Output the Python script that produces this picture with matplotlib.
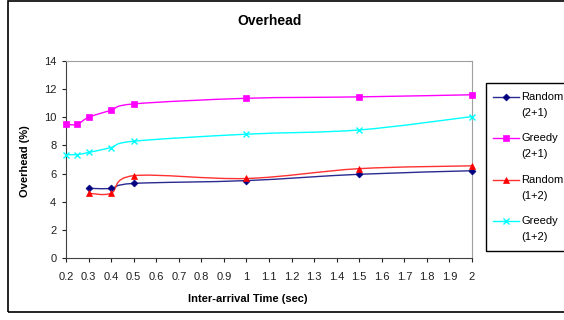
import matplotlib
matplotlib.use("Agg")
import numpy as np
from matplotlib import pyplot as plt
from matplotlib.path import Path
from matplotlib.patches import PathPatch, Rectangle
from matplotlib.lines import Line2D

plt.rcParams['font.family'] = ['Liberation Sans', 'DejaVu Sans']

# data
x_full = [0.2, 0.25, 0.3, 0.4, 0.5, 1.0, 1.5, 2.0]
x_part = [0.3, 0.4, 0.5, 1.0, 1.5, 2.0]
random_21 = [4.95, 4.95, 5.3, 5.5, 5.95, 6.2]
greedy_21 = [9.5, 9.5, 10.0, 10.5, 10.95, 11.35, 11.45, 11.6]
random_12 = [4.6, 4.6, 5.85, 5.65, 6.35, 6.55]
greedy_12 = [7.35, 7.35, 7.5, 7.85, 8.3, 8.8, 9.1, 10.05]
x_ticks = [round(0.2 + 0.1 * i, 1) for i in range(19)]
tick_labels = [('%g' % t) for t in x_ticks]

series = [
    ("Random", "(2+1)", x_part, random_21, '#000080', 'D', 3.5, '#2a2a90'),
    ("Greedy", "(2+1)", x_full, greedy_21, '#ff00ff', 's', 4.5, '#ff00ff'),
    ("Random", "(1+2)", x_part, random_12, '#ff0000', '^', 5, '#ff3030'),
    ("Greedy", "(1+2)", x_full, greedy_12, '#00ffff', 'x', 4, '#00ffff'),
]


def smooth_path(xs, ys):
    # Excel-style smoothed line drawn as cubic bezier segments
    xs = np.asarray(xs, float)
    ys = np.asarray(ys, float)
    n = len(xs)
    verts = [(xs[0], ys[0])]
    codes = [Path.MOVETO]
    for i in range(n - 1):
        p0 = np.array([xs[max(i - 1, 0)], ys[max(i - 1, 0)]])
        p1 = np.array([xs[i], ys[i]])
        p2 = np.array([xs[i + 1], ys[i + 1]])
        p3 = np.array([xs[min(i + 2, n - 1)], ys[min(i + 2, n - 1)]])
        c1 = p1 + (p2 - p0) / 6.0
        c2 = p2 - (p3 - p1) / 6.0
        verts += [tuple(c1), tuple(c2), tuple(p2)]
        codes += [Path.CURVE4] * 3
    return Path(verts, codes)


W, H = 564, 320
fig = plt.figure(figsize=(W / 100, H / 100), dpi=100)
fig.patches.append(Rectangle((8 / W, 1 - 312 / H), 1.0, 311 / H,
                             transform=fig.transFigure, fill=False,
                             edgecolor='black', linewidth=1.2))
ax = fig.add_axes([66 / W, 1 - 258 / H, 406 / W, 197 / H])

for name, sub, xs, ys, mcol, marker, ms, lcol in series:
    ax.add_patch(PathPatch(smooth_path(xs, ys), fill=False, edgecolor=lcol,
                           linewidth=1.0, zorder=2))
    ax.plot(xs, ys, linestyle='none', marker=marker, color=mcol,
            markersize=ms, markeredgewidth=1 if marker == 'x' else 0.5,
            zorder=3, clip_on=False)

ax.set_xlim(0.2, 2.0)
ax.set_ylim(0, 14)
ax.set_xticks(x_ticks)
ax.set_xticklabels(tick_labels)
ax.set_yticks(range(0, 15, 2))
ax.tick_params(direction='out', length=3, labelsize=8, width=0.8,
               colors='#202020')
ax.tick_params(axis='x', pad=7)
ax.tick_params(axis='y', pad=4)
for side in ['top', 'right']:
    ax.spines[side].set_color('#a0a0a0')
for side in ['left', 'bottom']:
    ax.spines[side].set_color('#404040')

ax.set_xlabel('Inter-arrival Time (sec)', fontsize=8, fontweight='bold')
ax.xaxis.set_label_coords((248 - 66) / 406, (258 - 294) / 197)
ax.set_ylabel('Overhead (%)', fontsize=8, fontweight='bold')
ax.yaxis.set_label_coords((30 - 66) / 406, 0.49)
fig.text(270 / W, 1 - 21 / H, 'Overhead', ha='center', va='center',
         fontsize=10, fontweight='bold')

# legend box drawn by hand so the key line sits on the first text line
fig.patches.append(Rectangle((486 / W, 1 - 251 / H), 1.0, 168 / H,
                             transform=fig.transFigure, fill=False,
                             edgecolor='black', linewidth=1.0))
for i, (name, sub, xs, ys, mcol, marker, ms, lcol) in enumerate(series):
    y = 97 + 41.3 * i
    fig.lines.append(Line2D([493 / W, 519 / W], [1 - y / H, 1 - y / H],
                            transform=fig.transFigure, color=lcol,
                            linewidth=1.0))
    fig.lines.append(Line2D([506 / W], [1 - y / H],
                            transform=fig.transFigure, color=mcol,
                            linestyle='none', marker=marker,
                            markersize=ms,
                            markeredgewidth=1 if marker == 'x' else 0.5))
    fig.text(521 / W, 1 - y / H, name, ha='left', va='center', fontsize=8)
    fig.text(521 / W, 1 - (y + 16) / H, sub, ha='left', va='center',
             fontsize=8)

fig.savefig('out.png', dpi=100)
